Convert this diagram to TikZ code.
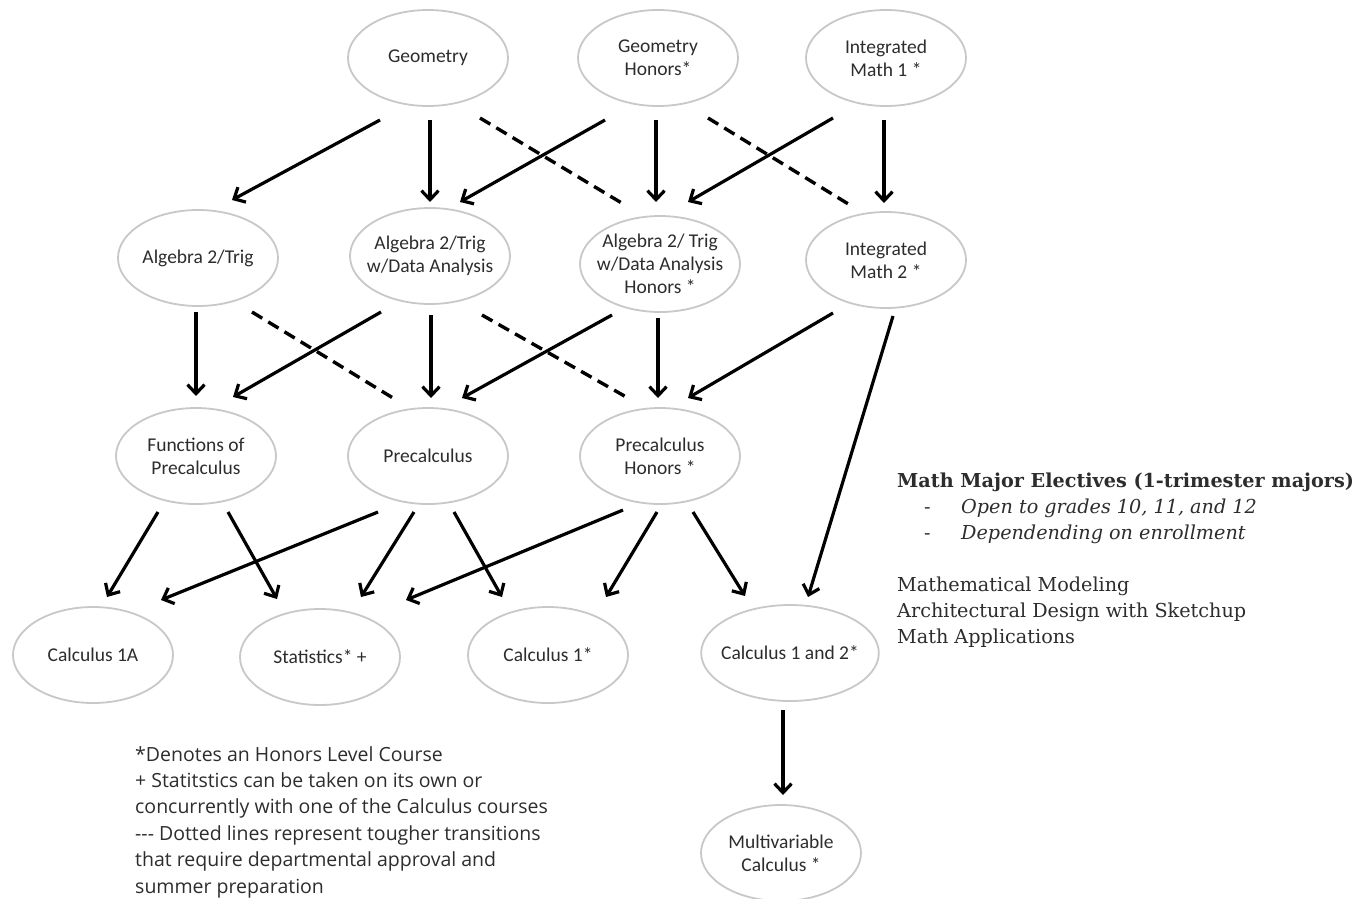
\documentclass[tikz,border=0pt]{standalone}
\usepackage{fontspec}
\setmainfont{Carlito}
\newfontfamily\legendfont{Open Sans}
\newfontfamily\notefont{DejaVu Serif}
\usepackage{xcolor}
\usepackage{tikz}
\usetikzlibrary{arrows.meta,shapes.geometric,calc}
\definecolor{crsgray}{RGB}{200,200,200}
\definecolor{crstext}{RGB}{45,45,45}

\begin{document}
\begin{tikzpicture}[
  x=1pt, y=-1pt,
  font=\fontsize{19.5}{23}\selectfont,
  course/.style={ellipse, draw=crsgray, line width=1.8pt, align=center, text=crstext,
    minimum width=160pt, minimum height=96pt, inner sep=0pt},
  arr/.style={-{Straight Barb[length=9pt,width=17pt,line width=3.2pt]}, line width=3.2pt},
  hard/.style={line width=3.4pt, dash pattern=on 12pt off 7pt}
]
\useasboundingbox[fill=white] (0,0) rectangle (1360,898);
% courses
\node[course] (geo)  at (428,58)  {Geometry};
\node[course] (geoh) at (658,58)  {Geometry\\Honors*};
\node[course] (imo)  at (886,58)  {Integrated\\Math 1 *};
\node[course] (algt) at (198,258) {Algebra 2/Trig};
\node[course, inner xsep=-9pt] (algd) at (430,256) {Algebra 2/Trig\\w/Data Analysis};
\node[course, inner xsep=-9pt] (algh) at (660,264) {Algebra 2/ Trig\\w/Data Analysis\\Honors *};
\node[course] (imt)  at (886,260) {Integrated\\Math 2 *};
\node[course] (fnp)  at (196,456) {Functions of\\Precalculus};
\node[course] (pre)  at (428,456) {Precalculus};
\node[course] (preh) at (660,456) {Precalculus\\Honors *};
\node[course] (cala) at (93,655)  {Calculus 1A};
\node[course] (stat) at (320,657) {Statistics* +};
\node[course] (calo) at (548,655) {Calculus 1*};
\node[course, inner xsep=-6pt] (calt) at (790,653) {Calculus 1 and 2*};
\node[course] (mvc)  at (781,853) {Multivariable\\Calculus *};

% row 1 to row 2
\draw[arr]  ($(geo)+(-48,62)$)  -- ($(algt)+(34,-58)$);
\draw[arr]  ($(geo)+(2,62)$)    -- ($(algd)+(0,-54)$);
\draw[hard] ($(geo)+(52,60)$)   -- ($(algh)+(-35,-59)$);
\draw[arr]  ($(geoh)+(-53,62)$) -- ($(algd)+(30,-54)$);
\draw[arr]  ($(geoh)+(-2,62)$)  -- ($(algh)+(-4,-62)$);
\draw[hard] ($(geoh)+(50,60)$)  -- ($(imt)+(-36,-55)$);
\draw[arr]  ($(imo)+(-53,60)$)  -- ($(algh)+(28,-62)$);
\draw[arr]  ($(imo)+(-2,62)$)   -- ($(imt)+(-2,-57)$);

% row 2 to row 3
\draw[arr]  ($(algt)+(-2,54)$)  -- ($(fnp)+(0,-60)$);
\draw[hard] ($(algt)+(54,54)$)  -- ($(pre)+(-35,-58)$);
\draw[arr]  ($(algd)+(-49,56)$) -- ($(fnp)+(37,-59)$);
\draw[arr]  ($(algd)+(1,59)$)   -- ($(pre)+(3,-58)$);
\draw[hard] ($(algd)+(52,59)$)  -- ($(preh)+(-32,-58)$);
\draw[arr]  ($(algh)+(-48,51)$) -- ($(pre)+(34,-58)$);
\draw[arr]  ($(algh)+(-2,54)$)  -- ($(preh)+(-2,-58)$);
\draw[arr]  ($(imt)+(-53,53)$)  -- ($(preh)+(28,-58)$);
\draw[arr]  ($(imt)+(7,56)$)    -- ($(calt)+(18,-56)$);

% row 3 to row 4
\draw[arr]  ($(fnp)+(-38,56)$)  -- ($(cala)+(14,-58)$);
\draw[arr]  ($(fnp)+(32,56)$)   -- ($(stat)+(-43,-58)$);
\draw[arr]  ($(pre)+(-50,56)$)  -- ($(cala)+(68,-55)$);
\draw[arr]  ($(pre)+(-14,56)$)  -- ($(stat)+(41,-60)$);
\draw[arr]  ($(pre)+(26,56)$)   -- ($(calo)+(-46,-58)$);
\draw[arr]  ($(preh)+(-37,54)$) -- ($(stat)+(86,-57)$);
\draw[arr]  ($(preh)+(-3,56)$)  -- ($(calo)+(58,-58)$);
\draw[arr]  ($(preh)+(33,56)$)  -- ($(calt)+(-45,-57)$);
\draw[arr]  ($(calt)+(-7,57)$)  -- ($(mvc)+(2,-58)$);

% notes
\node[anchor=north west, inner sep=0pt, align=left, text=crstext,
  font=\legendfont\fontsize{19.5}{26.4}\selectfont] (key) at (135,746)
  {*Denotes an Honors Level Course\\
   + Statitstics can be taken on its own or\\
   concurrently with one of the Calculus courses\\
   -{}-{}- Dotted lines represent tougher transitions\\
   that require departmental approval and\\
   summer preparation};
\node[anchor=north west, inner sep=0pt, align=left, text=crstext,
  font=\notefont\fontsize{19.2}{26}\selectfont] (elec) at (897,473)
  {\textbf{Math Major Electives (1-trimester majors)}\\
   \makebox[64pt][l]{\hspace{27pt}-}\textit{Open to grades 10, 11, and 12}\\
   \makebox[64pt][l]{\hspace{27pt}-}\textit{Dependending on enrollment}\\[26pt]
   Mathematical Modeling\\
   Architectural Design with Sketchup\\
   Math Applications};
\end{tikzpicture}
\end{document}
